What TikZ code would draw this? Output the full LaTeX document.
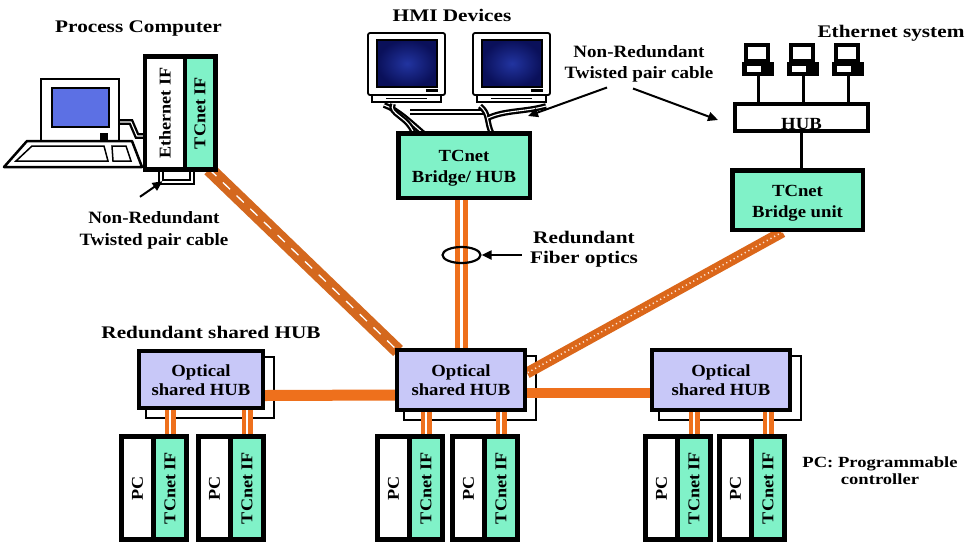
\documentclass[tikz,border=0pt]{standalone}
\usepackage{fontspec}
\setmainfont{Liberation Serif}[FakeStretch=1.1]
\newfontfamily\widefont{Liberation Serif}[FakeStretch=1.2]
\usetikzlibrary{arrows.meta,shapes.geometric,calc}

\definecolor{tcgreen}{RGB}{128,242,200}
\definecolor{hubblue}{RGB}{200,200,248}
\definecolor{fiber}{RGB}{238,112,28}
\definecolor{fiberdark}{RGB}{212,104,30}
\definecolor{scrblue}{RGB}{92,112,228}
\definecolor{navy}{RGB}{10,16,90}
\definecolor{navylight}{RGB}{34,52,160}

\pgfdeclarelayer{paper}
\pgfdeclarelayer{back}
\pgfdeclarelayer{links}
\pgfsetlayers{paper,back,links,main}

% two centred lines, spaced by the current \baselineskip
\newcommand\twolines[2]{\begin{tabular}{@{}c@{}}#1\\#2\end{tabular}}
% text block inside a box, sitting slightly below the box centre
\newcommand\boxlines[3]{\fontsize{17}{#1}\selectfont\raisebox{-2.5pt}[\height][\depth]{\twolines{#2}{#3}}}
% programmable controller with its TCnet interface card
\newcommand\plcunit[2]{%
  \node[fill=black, inner sep=0, minimum width=70, minimum height=108] (#1) at (#2+35,488) {};
  \node[part, fill=white, minimum width=27] (#1w) at (#2+18.5,488) {\rotatebox{90}{PC}};
  \node[part, fill=tcgreen, minimum width=28] (#1g) at (#2+51,488) {\rotatebox{90}{TCnet IF}};
}

\begin{document}
\begin{tikzpicture}[x=1pt,y=-1pt,
  ttl/.style={font=\widefont\fontsize{17.7}{20}\selectfont\bfseries, inner sep=0, anchor=base},
  note/.style={font=\fontsize{17.3}{21}\selectfont\bfseries, inner sep=0},
  widenote/.style={font=\widefont\fontsize{17.7}{20}\selectfont\bfseries, inner sep=0},
  boxfont/.style={font=\fontsize{17}{19}\selectfont\bfseries},
  greenbox/.style={draw=black, line width=4.5pt, fill=tcgreen, inner sep=0, boxfont},
  hubfront/.style={draw=black, line width=4pt, fill=hubblue, inner sep=0, boxfont},
  hubback/.style={draw=black, line width=2.5pt, fill=white},
  part/.style={inner sep=0, minimum height=98, font=\fontsize{16.5}{18}\selectfont\bfseries},
  fiberpair/.style={draw=fiber, line width=5pt, double=white, double distance=3pt},
  fiberbar/.style={draw=fiber, line width=11pt},
  dropcable/.style={draw=fiber, line width=4.5pt, double=white, double distance=2pt},
  twisted/.style={draw=black, line width=2.3pt, double=white, double distance=1.1pt},
  pointer/.style={draw=black, line width=2pt, -{Triangle[length=10pt,width=9pt]}},
  wire/.style={draw=black, line width=3pt},
]
\begin{pgfonlayer}{paper}
  \fill[white] (0,0) rectangle (967,542);
\end{pgfonlayer}
\useasboundingbox (0,0) rectangle (967,542);

% ---------- titles and notes ----------
\node[ttl] (tPC)  at (138.5,32) {Process Computer};
\node[ttl] (tHMI) at (452,21)   {HMI Devices};
\node[ttl] (tEth) at (891,37)   {Ethernet system};
\node[ttl] (tRSH) at (211,338)  {Redundant shared HUB};
\node[note, font=\fontsize{17.3}{22}\selectfont\bfseries] (nrL) at (154,229.6)
  {\twolines{Non-Redundant}{Twisted pair cable}};
\node[note] (nrR) at (639,63.3) {\twolines{Non-Redundant}{Twisted pair cable}};
\node[widenote] (fiberlbl) at (584,249) {\twolines{Redundant}{Fiber optics}};
\node[widenote, font=\widefont\fontsize{15.5}{17}\selectfont\bfseries] (pclbl) at (880,473)
  {\twolines{PC: Programmable}{controller}};

% ---------- process computer ----------
\draw[line width=2pt, fill=white] (41,79) rectangle (119,141);
\draw[line width=2.2pt, fill=scrblue] (52,88) rectangle (109,127);
\fill (100,133) rectangle (108,140);
\draw[line width=2.5pt, fill=white, line join=round] (27,141) -- (132,141) -- (142,167) -- (4,167) -- cycle;
\draw[line width=1.5pt] (32,146) -- (104,146) -- (108,161) -- (16,161) -- cycle;
\draw[line width=1.5pt] (112,146) -- (126,146) -- (131,161) -- (113,161) -- cycle;

\node[fill=black, inner sep=0, minimum width=75, minimum height=118] (pcbox) at (180.5,113) {};
\node[inner sep=0, fill=white, minimum width=36, minimum height=108,
      font=\fontsize{16.5}{18}\selectfont\bfseries] (ethif) at (165,113) {\rotatebox{90}{Ethernet IF}};
\node[inner sep=0, fill=tcgreen, minimum width=26, minimum height=108,
      font=\fontsize{16.5}{18}\selectfont\bfseries] (tcif) at (200,113) {\rotatebox{90}{TCnet IF}};

% ---------- HMI devices ----------
\foreach \mx in {368,473}{
  \draw[line width=1.8pt, fill=white, rounded corners=2pt] (\mx,33) rectangle (\mx+77,95);
  \shadedraw[line width=1.5pt, inner color=navylight, outer color=navy] (\mx+9,40) rectangle (\mx+69,87);
  \fill (\mx+58,89) rectangle (\mx+70,92);
  \draw[line width=1.5pt, fill=white] (\mx+4,95) rectangle (\mx+73,102);
  \draw[line width=1pt] (\mx+18,98.5) -- (\mx+59,98.5);
}
\node[greenbox, minimum width=131.5, minimum height=64.5] (brh) at (464,165.5)
  {\boxlines{21}{TCnet}{Bridge/ HUB}};

% ---------- Ethernet system ----------
\node[draw=black, line width=4pt, fill=white, inner sep=0, minimum width=133, minimum height=27,
      font=\fontsize{17}{19}\selectfont\bfseries] (ethhub) at (801.5,117.5)
  {\raisebox{-7pt}[\height][\depth]{HUB}};
\foreach \cx [count=\i] in {758,803,848}{
  \draw[line width=3.5pt, fill=white] (\cx-12,45) rectangle (\cx+10,61);
  \fill[black] (\cx-16,62) rectangle (\cx+16,76);
  \fill[white] (\cx-11,66) rectangle (\cx+3,72);
  \coordinate (ic\i) at (\cx,76);
  \draw[wire] (ic\i) -- (ic\i |- ethhub.north);
}
\node[greenbox, minimum width=130.5, minimum height=59.5] (bru) at (797.5,200)
  {\boxlines{21}{TCnet}{Bridge unit}};
\draw[wire] (ethhub.south) -- (ethhub.south |- bru.north);

% ---------- optical shared hubs ----------
\node[hubfront, minimum width=124, minimum height=57] (hubL) at (201,379.5) {\boxlines{19}{Optical}{shared HUB}};
\node[hubfront, minimum width=128, minimum height=60] (hubC) at (461,380)   {\boxlines{19}{Optical}{shared HUB}};
\node[hubfront, minimum width=138, minimum height=60] (hubR) at (721,380)   {\boxlines{19}{Optical}{shared HUB}};
\begin{pgfonlayer}{back}
  \foreach \h in {hubL,hubC,hubR}
    \draw[hubback] ($(\h.north west)+(9,8)$) rectangle ($(\h.south east)+(9,8)$);
\end{pgfonlayer}

% ---------- programmable controllers ----------
\plcunit{uLa}{119}
\plcunit{uLb}{196}
\plcunit{uCa}{375}
\plcunit{uCb}{450}
\plcunit{uRa}{643}
\plcunit{uRb}{717}

% ---------- cabling ----------
\begin{pgfonlayer}{links}
  % fiber links
  \draw[fiberbar] ($(hubL.east)+(0,16)$) -- ($(hubC.west)+(0,15)$);
  \draw[fiberbar, line width=10pt] ($(hubC.east)+(0,13)$) -- ($(hubR.west)+(0,13)$);
  \draw[fiberpair] (hubC.north) -- (hubC.north |- brh.south);
  \coordinate (dA) at ($(pcbox.south east)+(-9,-3)$);
  \coordinate (dB) at ($(hubC.north west)+(3,3)$);
  \draw[draw=fiberdark, line width=14pt] (dA) -- (dB);
  \draw[white, line width=1.3pt, dash pattern=on 10pt off 9pt] (dA) -- (dB);
  \coordinate (eA) at ($(bru.south)+(-15,0)$);
  \coordinate (eB) at ($(hubC.east)+(0,-7)$);
  \draw[draw=fiber!92!black, line width=11pt] (eA) -- (eB);
  \draw[white!80!fiber, line width=1.5pt, dash pattern=on 1.2pt off 3pt] (eA) -- (eB);
  \foreach \u/\h in {uLa/hubL,uLb/hubL,uCa/hubC,uCb/hubC,uRa/hubR,uRb/hubR}
    \draw[dropcable] (\u g.north) -- (\u g.north |- \h.south);
  % twisted pair cables
  \draw[twisted] (119,122) -- (131,122) -- (137,136) -- (146,136);
  \draw[twisted] (161,168) -- (161,182) -- (192,182) -- (192,168);
  \draw[twisted] (384,105) .. controls (398,110) and (410,122) .. (424,134);
  \draw[twisted] (393,104) .. controls (388,114) and (408,116) .. (414,134);
  \draw[twisted] (410,112) -- (486,112);
  \draw[twisted] (480,106) .. controls (490,114) and (486,122) .. (492,134);
  \draw[twisted] (488,118) .. controls (505,110) and (525,112) .. (546,106);
\end{pgfonlayer}

% ---------- pointers ----------
\node[ellipse, draw=black, line width=2.2pt, inner sep=0, minimum width=38, minimum height=16] (ring) at (461.5,255) {};
\draw[pointer] ($(fiberlbl.west |- ring.east)+(-8,0)$) -- (ring.east);
\coordinate (pcTip) at ($(pcbox.south)+(-18,9)$);
\draw[pointer] ($(nrL.north)+(-14,-10.6)$) -- (pcTip);
\coordinate (hmiTip) at ($(brh.north east)+(-4,-15)$);
\coordinate (hubTip) at ($(ethhub.west)+(-15,2.5)$);
\draw[pointer] ($(nrR.south)+(-32,3)$) -- (hmiTip);
\draw[pointer] ($(nrR.south)+(-6,4)$) -- (hubTip);
\end{tikzpicture}
\end{document}
